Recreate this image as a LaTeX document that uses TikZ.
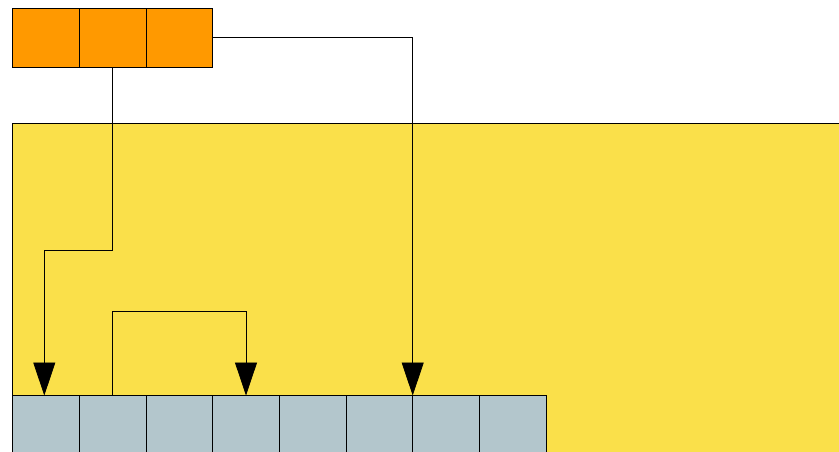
\documentclass[tikz,border=0pt]{standalone}
\usetikzlibrary{arrows.meta}
\definecolor{orangefill}{HTML}{FF9900}
\definecolor{yellowfill}{HTML}{FAE04A}
\definecolor{grayfill}{HTML}{B3C6CC}
\begin{document}
\begin{tikzpicture}[x=1pt,y=-1pt,
  cell/.style={draw=black, line width=0.9pt, minimum width=66.7pt, minimum height=59.3pt, inner sep=0pt, outer sep=0pt, anchor=north west},
  ocell/.style={cell, fill=orangefill},
  gcell/.style={cell, fill=grayfill, minimum height=70pt},
  conn/.style={draw=black, line width=0.8pt},
  arr/.style={conn, -{Triangle[width=22pt,length=33pt]}}]
\useasboundingbox (0,0) rectangle (839,451);
\begin{scope}
\clip (0,0) rectangle (839,451);
\node[draw=black, line width=0.9pt, fill=yellowfill, minimum width=900pt, minimum height=400pt, inner sep=0pt, outer sep=0pt, anchor=north west] (area) at (12.7,123.5) {};
\node[ocell] (o1) at (12.7,8) {};
\node[ocell] (o2) at (79.4,8) {};
\node[ocell] (o3) at (146.1,8) {};
\foreach \i in {1,...,8} {
  \node[gcell] (g\i) at ({12.7+66.66*(\i-1)},395.5) {};
}
\coordinate (b1) at (44.3,250);
\coordinate (b3) at (246,311);
\draw[arr] (o2.south) |- (b1) -- (b1 |- g1.north);
\draw[arr] (o3.east) -| (g6.north east);
\draw[arr] (g2.north) |- (b3) -- (b3 |- g4.north);
\end{scope}
\end{tikzpicture}
\end{document}
